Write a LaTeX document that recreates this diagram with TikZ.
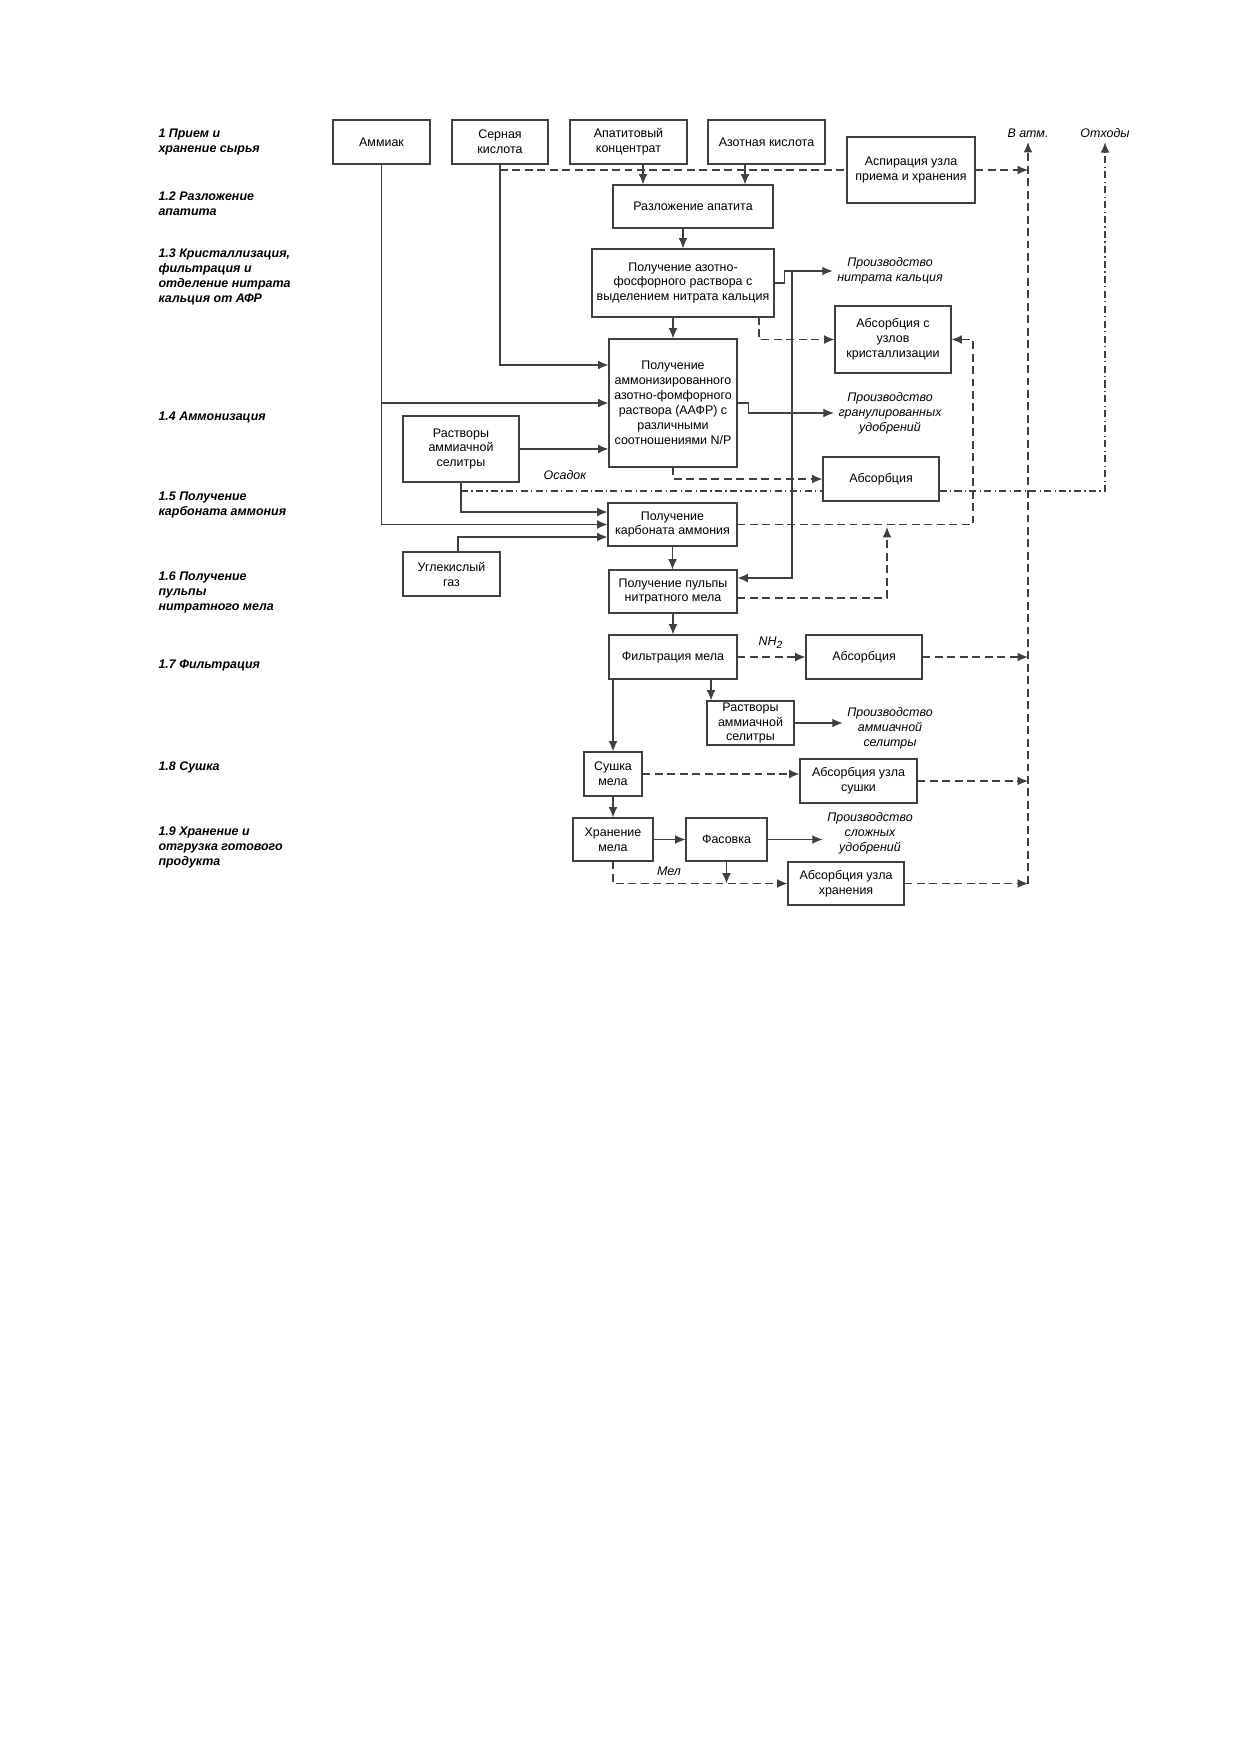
\documentclass[tikz,border=0pt]{standalone}
\usepackage{fontspec}
\setmainfont{Liberation Sans}
\usetikzlibrary{arrows.meta}
\usetikzlibrary{positioning}
\newlength{\px}
\setlength{\px}{0.16935mm}

\begin{document}
\begin{tikzpicture}[
    x=\px, y=-\px,
    line width=0.5pt,
    blk/.style={draw=black!75, align=center, inner sep=1pt, font=\fontsize{6}{7.2}\selectfont},
    lbl/.style={anchor=west, align=left, inner sep=0pt, font=\fontsize{6}{7.2}\selectfont\bfseries\itshape},
    txt/.style={align=center, inner sep=2pt, font=\fontsize{6}{7.2}\selectfont\itshape},
    arr/.style={draw=black!75, -{Latex[length=5pt,width=4.2pt]}},
    dsh/.style={draw=black!75, dash pattern=on 3.8pt off 2.2pt},
    dd/.style={draw=black!75, dash pattern=on 3.4pt off 1.6pt on 0.6pt off 1.6pt}
]
\useasboundingbox (0,0) rectangle (1240,1754);

% stages
\node[lbl] (l1) at (158,142) {1 Прием и\\хранение сырья};
\node[lbl] (l2) at (158,204) {1.2 Разложение\\апатита};
\node[lbl] (l3) at (158,277) {1.3 Кристаллизация,\\фильтрация и\\отделение нитрата\\кальция от АФР};
\node[lbl] (l4) at (158,417) {1.4 Аммонизация};
\node[lbl] (l5) at (158,505) {1.5 Получение\\карбоната аммония};
\node[lbl] (l6) at (158,592) {1.6 Получение\\пульпы\\нитратного мела};
\node[lbl] (l7) at (158,665) {1.7 Фильтрация};
\node[lbl] (l8) at (158,767) {1.8 Сушка};
\node[lbl] (l9) at (158,847) {1.9 Хранение и\\отгрузка готового\\продукта};

% blocks
\node[blk, minimum width=97\px, minimum height=44\px] (am) at (381.5,142) {Аммиак};
\node[blk, minimum width=96\px, minimum height=44\px] (sk) at (500,142) {Серная\\кислота};
\node[blk, minimum width=117\px, minimum height=44\px] (ak) at (628.5,142) {Апатитовый\\концентрат};
\node[blk, minimum width=117\px, minimum height=44\px] (azk) at (766.5,142) {Азотная кислота};
\node[blk, minimum width=128\px, minimum height=66\px] (asp) at (911,170) {Аспирация узла\\приема и хранения};
\node[blk, minimum width=160\px, minimum height=43\px] (raz) at (693,206.5) {Разложение апатита};
\node[blk, minimum width=182\px, minimum height=68\px] (afr) at (683,283) {Получение азотно-\\фосфорного раствора с\\выделением нитрата кальция};
\node[blk, minimum width=116\px, minimum height=67\px] (absk) at (893,339.5) {Абсорбция с\\узлов\\кристаллизации};
\node[blk, minimum width=128\px, minimum height=128\px] (aafr) at (673,403) {Получение\\аммонизированного\\азотно-фомфорного\\раствора (ААФР) с\\различными\\соотношениями N/P};
\node[blk, minimum width=116\px, minimum height=66\px] (ras1) at (461,449) {Растворы\\аммиачной\\селитры};
\node[blk, minimum width=116\px, minimum height=44\px] (abs1) at (881,479) {Абсорбция};
\node[blk, minimum width=129\px, minimum height=43\px] (karb) at (672.5,524.5) {Получение\\карбоната аммония};
\node[blk, minimum width=97\px, minimum height=44\px] (ugl) at (451.5,574) {Углекислый\\газ};
\node[blk, minimum width=128\px, minimum height=43\px] (pulp) at (673,591.5) {Получение пульпы\\нитратного мела};
\node[blk, minimum width=128\px, minimum height=44\px] (filt) at (673,657) {Фильтрация мела};
\node[blk, minimum width=116\px, minimum height=44\px] (abs2) at (864,657) {Абсорбция};
\node[blk, minimum width=87\px, minimum height=44\px, inner sep=0pt] (ras2) at (750.5,723) {Растворы\\аммиачной\\селитры};
\node[blk, minimum width=58\px, minimum height=44\px] (sush) at (613,774) {Сушка\\мела};
\node[blk, minimum width=117\px, minimum height=44\px] (abssu) at (858.5,781) {Абсорбция узла\\сушки};
\node[blk, minimum width=80\px, minimum height=43\px] (hran) at (613,839.5) {Хранение\\мела};
\node[blk, minimum width=81\px, minimum height=43\px] (fas) at (726.5,839.5) {Фасовка};
\node[blk, minimum width=116\px, minimum height=43\px] (absh) at (846,883.5) {Абсорбция узла\\хранения};

% outputs and labels
\node[txt] (onk) at (890,271) {Производство\\нитрата кальция};
\node[txt] (ogr) at (890,413) {Производство\\гранулированных\\удобрений};
\node[txt] (oas) at (890,728) {Производство\\аммиачной\\селитры};
\node[txt] (osl) at (870,833) {Производство\\сложных\\удобрений};
\node[txt] (atm) at (1028,133) {В атм.};
\node[txt] (otx) at (1105,133) {Отходы};
\node[txt] (osad) at (565,475) {Осадок};
\node[txt] (nh) at (771,643) {NH\textsubscript{2}};
\node[txt] (mel) at (669,871) {Мел};

\coordinate (akd) at (643,164);
\coordinate (azd) at (745,164);
\coordinate (skd) at (500,170);
\coordinate (afrd) at (759,317);
\coordinate (vn) at (792,271);
\coordinate (osd) at (461,491);
\coordinate (kr) at (973,524.5);
\coordinate (pk) at (887,527);
\coordinate (fr) at (711,679);

% raw materials
\draw[arr] (am.south) |- (aafr.west);
\draw[arr] (am.south) |- (karb.west);
\draw[arr] (sk.south) |- ([yshift=38\px]aafr.west);
\draw[arr] (akd) -- (akd |- raz.north);
\draw[arr] (azd) -- (azd |- raz.north);
\draw[dsh] (skd) -- (asp.west);
\draw[dsh, arr] (asp.east) -- (asp.east -| atm.south);

% main line
\draw[arr] (raz.south -| afr.north) -- (afr.north);
\draw[arr] (afr.south -| aafr.north) -- (aafr.north);
\draw[arr] (afr.east) -- ++(10,0) |- (onk.west);
\draw[arr] (vn) |- ([yshift=13.5\px]pulp.east);
\draw[dsh, arr] (afrd) |- (absk.west);
\draw[arr] (aafr.east) -- ++(11,0) |- (ogr.west);
\draw[dsh, arr] (aafr.south) |- (abs1.west);
\draw[arr] (ras1.east) -- (ras1.east -| aafr.west);
\draw[arr] (ras1.south) |- ([yshift=12.5\px]karb.west);
\draw[arr] ([xshift=6.5\px]ugl.north) |- ([yshift=-12.5\px]karb.west);
\draw[dd] (osd) -- (osd -| abs1.west);
\draw[dd, arr] ([yshift=-12\px]abs1.east) -| (otx.south);
\draw[arr] (karb.south) -- (karb.south |- pulp.north);
\draw[dsh, arr] (karb.east) -- (kr) |- (absk.east);
\draw[dsh, arr] ([yshift=-6.5\px]pulp.east) -| (pk);

% chalk
\draw[arr] (pulp.south) -- (filt.north);
\draw[dsh, arr] (filt.east) -- (abs2.west);
\draw[dsh, arr] (abs2.east) -- (abs2.east -| atm.south);
\draw[arr] (fr) -- (fr |- ras2.north);
\draw[arr] (ras2.east) -- (ras2.east -| oas.west);
\draw[arr] (filt.south -| sush.north) -- (sush.north);
\draw[dsh, arr] (sush.east) -- (sush.east -| abssu.west);
\draw[dsh, arr] (abssu.east) -- (abssu.east -| atm.south);
\draw[arr] (sush.south) -- (hran.north);
\draw[arr] (hran.east) -- (fas.west);
\draw[arr] (fas.east) -- (fas.east -| osl.west);
\draw[dsh, arr] (hran.south) |- (absh.west);
\draw[arr] (fas.south) -- (fas.south |- absh.west);
\draw[dsh, arr] (absh.east) -- (absh.east -| atm.south);
\draw[dsh, arr] (absh.east -| atm.south) -- (atm.south);
\end{tikzpicture}
\end{document}
